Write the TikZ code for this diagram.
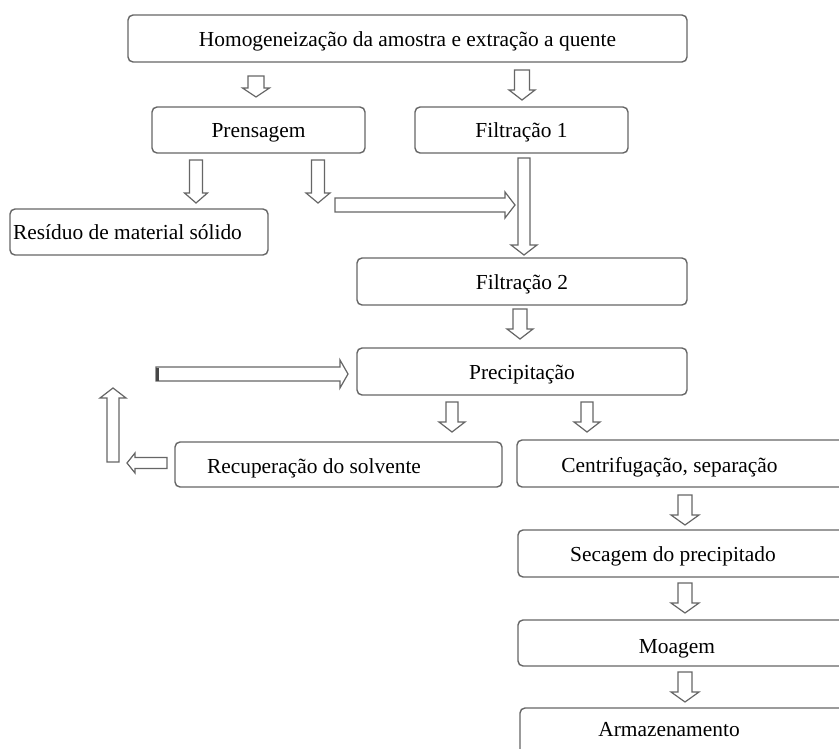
\documentclass[tikz,border=0pt]{standalone}
\usepackage{fontspec}
\setmainfont{Liberation Serif}
\usetikzlibrary{calc}
\definecolor{edge}{HTML}{666666}
\tikzset{
  box/.style={draw=edge, line width=1.4pt, rounded corners=5pt, fill=white, inner sep=0pt,
              font=\fontsize{21.4}{25}\selectfont, text height=16pt, text depth=0pt},
  lbl/.style={inner sep=0pt, font=\fontsize{21.4}{25}\selectfont, text=black, text height=16pt, text depth=0pt},
  blk/.style={draw=edge, line width=1.2pt, fill=white, line join=miter},
}
% #1 start coordinate, #2 angle, #3 length, #4 shaft half width, #5 head half width, #6 head length
\newcommand{\blockarrow}[6]{%
  \draw[blk, shift={(#1)}, rotate=#2]
    (0,-#4) -- (#3-#6,-#4) -- (#3-#6,-#5) -- (#3,0) -- (#3-#6,#5) -- (#3-#6,#4) -- (0,#4) -- cycle;}
\begin{document}
\begin{tikzpicture}[x=1pt,y=-1pt]
\useasboundingbox (0,0) rectangle (839,749);
\clip (0,0) rectangle (839,749);
\fill[white] (0,0) rectangle (839,749);

% boxes
\node[box, minimum width=559, minimum height=47] (top) at (407.5,38.5) {Homogeneização da amostra e extração a quente};
\node[box, minimum width=213, minimum height=46] (pren) at (258.5,130) {Prensagem};
\node[box, minimum width=213, minimum height=46] (fil1) at (521.5,130) {Filtração 1};
\node[box, minimum width=258, minimum height=46] (res) at (139,232) {};
\node[lbl] (rest) at (127.5,232) {Resíduo de material sólido};
\node[box, minimum width=330, minimum height=47] (fil2) at (522,281.5) {Filtração 2};
\node[box, minimum width=330, minimum height=47] (prec) at (522,371.5) {Precipitação};
\node[box, minimum width=327, minimum height=45] (rec) at (338.5,464.5) {};
\node[lbl] (rect) at (314,465) {Recuperação do solvente};
\node[box, minimum width=343, minimum height=47] (cent) at (688.5,463.5) {};
\node[lbl] (centt) at (669.5,464) {Centrifugação, separação};
\node[box, minimum width=343, minimum height=47] (sec) at (689.5,553.5) {};
\node[lbl] (sect) at (673,553) {Secagem do precipitado};
\node[box, minimum width=343, minimum height=46] (moa) at (689.5,643) {};
\node[lbl] (moat) at (677,645) {Moagem};
\node[box, minimum width=343, minimum height=62] (arm) at (691.5,739) {};
\node[lbl] (armt) at (669,728) {Armazenamento};

% arrow start points
\coordinate (a1) at (256,76);
\coordinate (a2) at (522,70);
\coordinate (a3) at (196,160);
\coordinate (a4) at (318,160);
\coordinate (a5) at (524,158);
\coordinate (a6) at (520,309);
\coordinate (a7) at (452,402);
\coordinate (a8) at (587,402);
\coordinate (a9) at (685,495);
\coordinate (a10) at (685,583);
\coordinate (a11) at (685,672);
\coordinate (h1) at (335,205);
\coordinate (h2) at (156,374);
\coordinate (u1) at (113,462);
\coordinate (l1) at (167,463);

% down arrows
\blockarrow{a1}{-90}{21}{8}{13.5}{9}
\blockarrow{a2}{-90}{30}{7.5}{13}{10}
\blockarrow{a3}{-90}{43}{6.5}{11.5}{10}
\blockarrow{a4}{-90}{43}{6.5}{12}{10}
\blockarrow{a5}{-90}{97}{6}{13}{10}
\blockarrow{a6}{-90}{30}{7}{13}{10}
\blockarrow{a7}{-90}{30}{6}{13}{10}
\blockarrow{a8}{-90}{30}{6}{13}{10}
\blockarrow{a9}{-90}{30}{7}{14}{10}
\blockarrow{a10}{-90}{30}{7}{14}{10}
\blockarrow{a11}{-90}{30}{7}{14}{10}
% horizontal arrows
\blockarrow{h1}{0}{180}{7}{13}{10}
\blockarrow{h2}{0}{192}{7}{14}{8}
\draw[line width=3pt, edge!70!black] (157.5,367.5) -- (157.5,380.5);
% loop-back arrows
\blockarrow{u1}{90}{74}{6}{13}{10}
\blockarrow{l1}{180}{40}{5.5}{10}{8}
\end{tikzpicture}
\end{document}
